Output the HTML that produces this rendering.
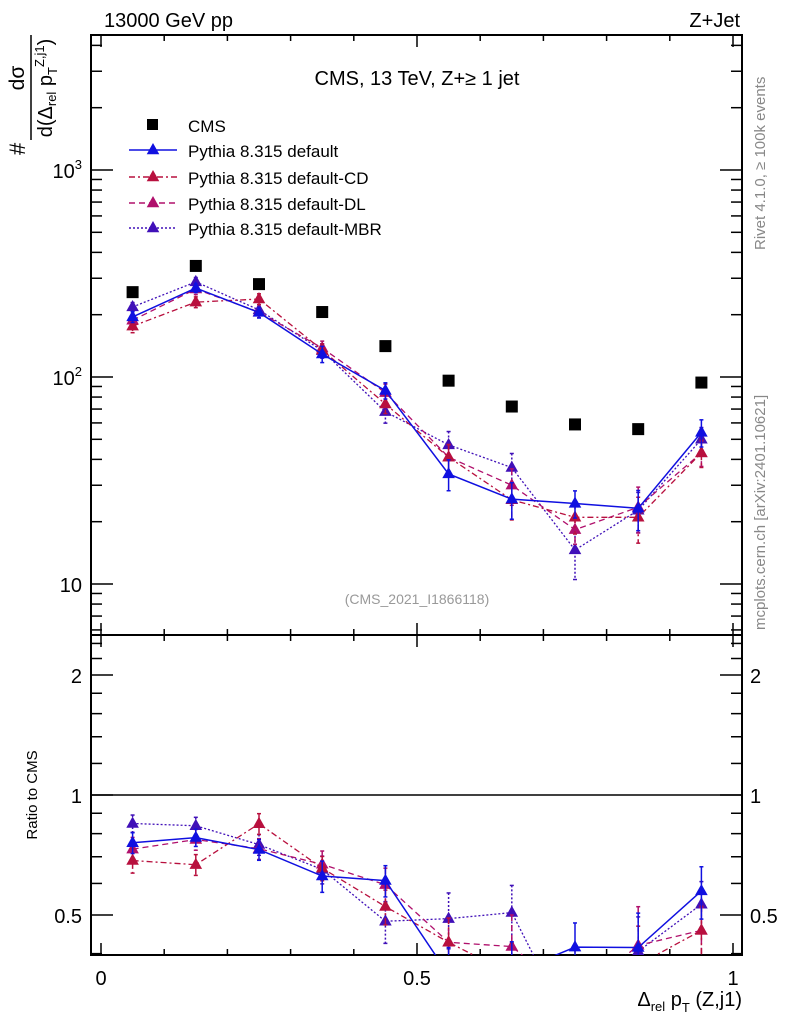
<!DOCTYPE html>
<html><head><meta charset="utf-8"><style>
html,body{margin:0;padding:0;background:#fff;overflow:hidden;width:786px;height:1024px;}
svg{display:block;font-family:"Liberation Sans",sans-serif;}
</style></head><body>
<svg id="chart" width="786" height="1024" viewBox="0 0 786 1024" xmlns="http://www.w3.org/2000/svg">
<text x="104" y="27" font-size="20">13000 GeV pp</text>
<text x="740" y="27" font-size="20" text-anchor="end">Z+Jet</text>
<text x="417" y="85" font-size="20" text-anchor="middle">CMS, 13 TeV, Z+≥ 1 jet</text>
<text x="417" y="604" font-size="14" fill="#999" text-anchor="middle">(CMS_2021_I1866118)</text>
<text transform="translate(765,250) rotate(-90)" font-size="15" fill="#888">Rivet 4.1.0, ≥ 100k events</text>
<text transform="translate(765,630) rotate(-90)" font-size="15" fill="#888">mcplots.cern.ch [arXiv:2401.10621]</text>
<g>
<text transform="translate(25,155) rotate(-90)" font-size="22">#</text>
<text transform="translate(24,78) rotate(-90)" font-size="21" text-anchor="middle">dσ</text>
<line x1="31" y1="35" x2="31" y2="140" stroke="#000" stroke-width="1.5"/>
<text transform="translate(52,88) rotate(-90)" font-size="20" text-anchor="middle">d(Δ<tspan font-size="13" dy="4">rel</tspan><tspan dy="-4"> p</tspan><tspan font-size="13" dy="5">T</tspan><tspan font-size="13" dy="-13">Z,j1</tspan><tspan dy="8">)</tspan></text>
</g>
<text transform="translate(37,795) rotate(-90)" font-size="15" text-anchor="middle">Ratio to CMS</text>
<text x="742" y="1006" font-size="20" text-anchor="end">Δ<tspan font-size="13" dy="5">rel</tspan><tspan dy="-5"> p</tspan><tspan font-size="13" dy="6">T</tspan><tspan dy="-6"> (Z,j1)</tspan></text>
<defs>
<clipPath id="cm"><rect x="91" y="35" width="651" height="600"/></clipPath>
<clipPath id="cr"><rect x="91" y="635" width="651" height="320"/></clipPath>
</defs>
<g id="main"></g>
<g id="ratio"></g>
<g id="legend"></g>
</svg>
<script>
const xCenters=[0.05,0.15,0.25,0.35,0.45,0.55,0.65,0.75,0.85,0.95];
const cmsValues=[257,344,281,206,141,96,72,59,56,94];
const defaultValues=[195,269,205,129,86,34,25.7,24.5,23.2,54];
const cdValues=[176,230,238,135,74,41,25.5,21,21,43];
const dlValues=[188,266,206,138,84,41,30,18.3,23.5,43];
const mbrValues=[218,288,211,134,68,47,36.5,14.6,22.7,50];
const defaultErr=[0.06,0.05,0.06,0.09,0.09,0.17,0.2,0.15,0.22,0.15];
const cdErr=[0.07,0.06,0.06,0.07,0.1,0.15,0.2,0.17,0.25,0.15];
const dlErr=[0.07,0.06,0.06,0.08,0.1,0.15,0.2,0.15,0.25,0.14];
const mbrErr=[0.05,0.05,0.06,0.08,0.12,0.16,0.17,0.28,0.22,0.14];
const yTickLabels=["10","10²","10³"];

const NS="http://www.w3.org/2000/svg";
const L=91,R=742,T=35,MB=635,RB=955;
const xs=v=>101+632*v;
const ym=v=>170+(3-Math.log10(v))*207;
const yr=r=>795-Math.log2(r)*120;
function mk(p,tag,a){const e=document.createElementNS(NS,tag);for(const k in a)e.setAttribute(k,a[k]);p.appendChild(e);return e;}
const main=document.getElementById('main'),ratio=document.getElementById('ratio'),leg=document.getElementById('legend');

let f=mk(main,'rect',{x:L,y:T,width:R-L,height:MB-T,fill:'none',stroke:'#000','stroke-width':2});

f=mk(ratio,'rect',{x:L,y:MB,width:R-L,height:RB-MB,fill:'none',stroke:'#000','stroke-width':2});

for(let i=0;i<=10;i++){const x=xs(i/10);const big=i%5==0;const l=big?12:6;
 [[T,1],[MB,-1],[MB,1],[RB,-1]].forEach(([y,d])=>mk(main,'line',{x1:x,x2:x,y1:y,y2:y+d*l,stroke:'#000','stroke-width':1.5}));}
[["0",0],["0.5",0.5],["1",1]].forEach(([t,v])=>{const e=mk(ratio,'text',{x:xs(v),y:985,'font-size':20,'text-anchor':'middle'});e.textContent=t;
 });
for(let d=0;d<=3;d++){for(let m=1;m<=9;m++){const v=Math.pow(10,d)*m;const y=ym(v);if(y<T||y>MB)continue;const l=m==1?22:11;
 mk(main,'line',{x1:L,x2:L+l,y1:y,y2:y,stroke:'#000','stroke-width':1.5});mk(main,'line',{x1:R,x2:R-l,y1:y,y2:y,stroke:'#000','stroke-width':1.5});}}
yTickLabels.forEach((t,i)=>{const v=Math.pow(10,i+1);const e=mk(main,'text',{x:82,y:ym(v)+8,'font-size':20,'text-anchor':'end'});
 
 if(i==0)e.textContent='10';else{e.textContent='10';const s=mk(e,'tspan',{dy:-9,'font-size':13});s.textContent=String(i+1);}});
[0.4,0.5,0.6,0.7,0.8,0.9,1,1.2,1.4,1.6,1.8,2,2.2,2.4].forEach(v=>{const y=yr(v);if(y<MB||y>RB)return;const l=(v==0.5||v==1||v==2)?22:11;
 mk(ratio,'line',{x1:L,x2:L+l,y1:y,y2:y,stroke:'#000','stroke-width':1.5});mk(ratio,'line',{x1:R,x2:R-l,y1:y,y2:y,stroke:'#000','stroke-width':1.5});});
[["0.5",0.5],["1",1],["2",2]].forEach(([t,v])=>{[[82,'end'],[750,'start']].forEach(([x,a])=>{const e=mk(ratio,'text',{x:x,y:yr(v)+8,'font-size':20,'text-anchor':a});e.textContent=t;
 });});
mk(ratio,'line',{x1:L,x2:R,y1:yr(1),y2:yr(1),stroke:'#000','stroke-width':1.5});

function tri(p,x,y,c,s){return mk(p,'path',{d:`M${x},${y-s} L${x+s*0.9},${y+s*0.6} L${x-s*0.9},${y+s*0.6}Z`,fill:c});}
const series=[
 {name:'default',vals:defaultValues,err:defaultErr,c:'#1010e0',dash:'',w:1.5,label:'Pythia 8.315 default'},
 {name:'cd',vals:cdValues,err:cdErr,c:'#b8103e',dash:'6,3,2,3',w:1.3,label:'Pythia 8.315 default-CD'},
 {name:'dl',vals:dlValues,err:dlErr,c:'#b0106c',dash:'6,4',w:1.3,label:'Pythia 8.315 default-DL'},
 {name:'mbr',vals:mbrValues,err:mbrErr,c:'#4010b8',dash:'2,2',w:1.3,label:'Pythia 8.315 default-MBR'}];
const gm=mk(main,'g',{'clip-path':'url(#cm)'}),gr=mk(ratio,'g',{'clip-path':'url(#cr)'});
series.slice().reverse().forEach(s=>{
 [[gm,(i)=>s.vals[i],ym],[gr,(i)=>s.vals[i]/cmsValues[i],yr]].forEach(([g,val,fy])=>{
  const sg=mk(g,'g',{});
  const pts=xCenters.map((x,i)=>xs(x)+','+fy(val(i))).join(' ');
  mk(sg,'polyline',{points:pts,fill:'none',stroke:s.c,'stroke-width':s.w,'stroke-dasharray':s.dash});
  xCenters.forEach((x,i)=>{const v=val(i),px=xs(x);const y1=fy(v*(1+s.err[i])),y2=fy(v*(1-s.err[i]));
   mk(sg,'line',{x1:px,x2:px,y1:y1,y2:y2,stroke:s.c,'stroke-width':1.5,'stroke-dasharray':s.dash});
   mk(sg,'line',{x1:px-2,x2:px+2,y1:y1,y2:y1,stroke:s.c,'stroke-width':1.5});mk(sg,'line',{x1:px-2,x2:px+2,y1:y2,y2:y2,stroke:s.c,'stroke-width':1.5});
   const t=tri(sg,px,fy(v),s.c,7);});
 });
});
xCenters.forEach((x,i)=>{const r=mk(gm,'rect',{x:xs(x)-6,y:ym(cmsValues[i])-6,width:12,height:12,fill:'#000'});
 });
const ly=[125,150,177,203,228];
let e=mk(leg,'rect',{x:147,y:ly[0]-6,width:11,height:11,fill:'#000'});
e=mk(leg,'text',{x:188,y:ly[0]+7,'font-size':17});e.textContent='CMS';
series.forEach((s,i)=>{const y=ly[i+1];
 const g=mk(leg,'g',{});
 mk(g,'line',{x1:129,x2:177,y1:y,y2:y,stroke:s.c,'stroke-width':1.5,'stroke-dasharray':s.dash});
 tri(g,153,y,s.c,7);
 const t=mk(g,'text',{x:188,y:y+7,'font-size':17});t.textContent=s.label;});
</script>
</body></html>
